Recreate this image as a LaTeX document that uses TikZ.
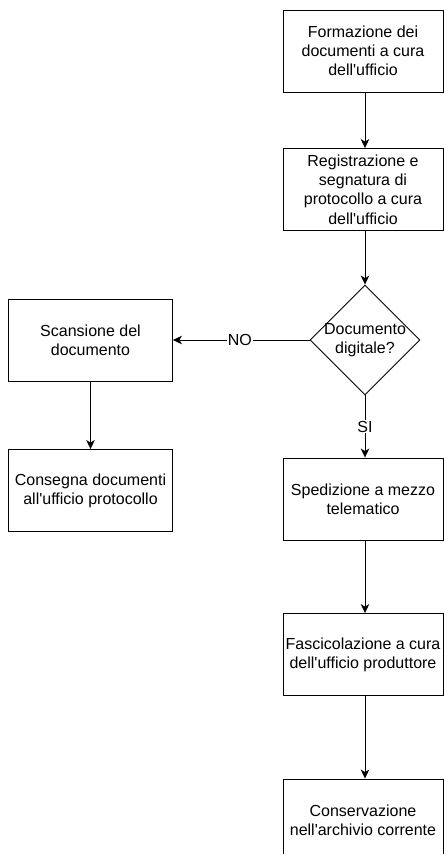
\documentclass[tikz,border=0pt]{standalone}
\usepackage{fontspec}
\setmainfont{Liberation Sans}
\usetikzlibrary{shapes.geometric,arrows.meta}

\newcommand{\ap}{\textquotesingle}

\tikzset{
	box/.style={draw,line width=0.9pt,minimum width=160pt,minimum height=82pt,inner sep=2pt,align=center,font=\fontsize{16}{19.2}\selectfont},
	decision/.style={draw,diamond,aspect=1,line width=0.9pt,minimum width=110pt,minimum height=110pt,inner sep=-4pt,align=center,font=\fontsize{16}{19.2}\selectfont},
	flow/.style={line width=0.9pt,-{Stealth[length=9pt,width=8.5pt,inset=2.5pt]}},
	tag/.style={fill=white,inner sep=1pt,font=\fontsize{16}{19.2}\selectfont}
}

\begin{document}
\begin{tikzpicture}[x=1pt,y=-1pt]
		\useasboundingbox (0,0) rectangle (444,854);
		%\draw[help lines,step=50pt] (0,0) grid (444,-854);

		\node[box] (form) at (363,51) {Formazione dei\\documenti a cura\\dell\ap ufficio};
		\node[box] (reg) at (363,189.5) {Registrazione e\\segnatura di\\protocollo a cura\\dell\ap ufficio};
		\node[decision] (dig) at (365,340) {Documento\\digitale?};

		\node[box,minimum width=164pt] (scan) at (90.5,340) {Scansione del\\documento};
		\node[box,minimum width=164pt] (cons) at (90.5,490.5) {Consegna documenti\\all\ap ufficio protocollo};

		\node[box] (sped) at (363,499) {Spedizione a mezzo\\telematico};
		\node[box] (fasc) at (363,654.5) {Fascicolazione a cura\\dell\ap ufficio produttore};
		\node[box] (arch) at (363,820) {Conservazione\\nell\ap archivio corrente};

		\draw[flow] (form.south -| dig) -- (reg.north -| dig);
		\draw[flow] (reg.south -| dig) -- (dig.north);
		\draw[flow] (dig.west) -- node[tag,pos=0.51] {NO} (scan.east);
		\draw[flow] (scan) -- (cons);
		\draw[flow] (dig.south) -- node[tag,pos=0.5] {SI} (sped.north -| dig);
		\draw[flow] (sped.south -| dig) -- (fasc.north -| dig);
		\draw[flow] (fasc.south -| dig) -- (arch.north -| dig);
	\end{tikzpicture}
\end{document}
